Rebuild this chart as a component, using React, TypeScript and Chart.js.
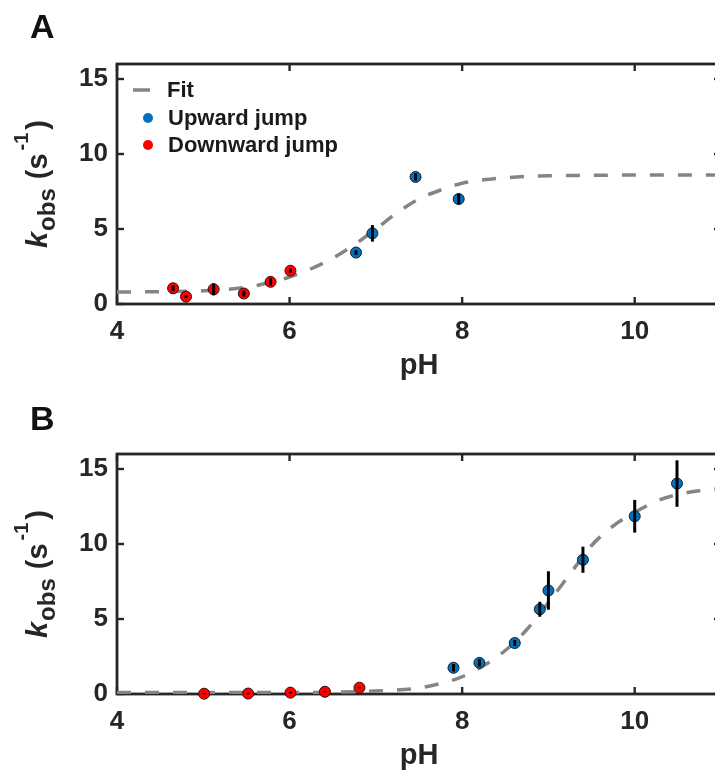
import React, { useEffect, useRef } from "react";
import { Chart, registerables } from "chart.js";

Chart.register(...registerables);

// ---------- data ----------
const xTicks = [4, 6, 8, 10];
const yTicks = [0, 5, 10, 15];
const xMin = 4;
const xMax = 11;
const yMin = 0;
const yMax = 16;

// Panel A
const fitA_pH = [4, 4.5, 5, 5.5, 5.75, 6, 6.25, 6.5, 6.75, 7, 7.25, 7.5, 7.75, 8, 8.25, 8.5, 9, 9.5, 10, 11];
const fitA_k = [0.8, 0.82, 0.88, 1.12, 1.4, 1.8, 2.35, 3.05, 3.95, 5.0, 6.1, 7.0, 7.6, 8.05, 8.28, 8.42, 8.55, 8.58, 8.6, 8.6];
const upA_pH = [6.77, 6.96, 7.46, 7.96];
const upA_k = [3.43, 4.71, 8.47, 7.0];
const upA_err = [0.15, 0.55, 0.25, 0.35];
const downA_pH = [4.65, 4.8, 5.12, 5.47, 5.78, 6.01];
const downA_k = [1.05, 0.49, 0.98, 0.7, 1.48, 2.22];
const downA_err = [0.2, 0.1, 0.4, 0.2, 0.25, 0.15];

// Panel B
const fitB_pH = [4, 5, 6, 6.5, 7, 7.5, 7.75, 8, 8.25, 8.5, 8.75, 9, 9.25, 9.5, 9.75, 10, 10.25, 10.5, 10.75, 11];
const fitB_k = [0.1, 0.1, 0.1, 0.12, 0.2, 0.4, 0.7, 1.15, 1.9, 2.9, 4.3, 6.1, 8.0, 9.9, 11.2, 12.1, 12.85, 13.3, 13.55, 13.7];
const upB_pH = [7.9, 8.2, 8.61, 8.9, 9.0, 9.4, 10.0, 10.49];
const upB_k = [1.75, 2.08, 3.4, 5.65, 6.9, 8.95, 11.85, 14.03];
const upB_err = [0.25, 0.25, 0.2, 0.5, 1.28, 0.87, 1.09, 1.55];
const downB_pH = [5.01, 5.52, 6.01, 6.41, 6.81];
const downB_k = [0.02, 0.03, 0.09, 0.15, 0.42];
const downB_err = [0.05, 0.05, 0.05, 0.05, 0.05];

const legendLabels = ["Fit", "Upward jump", "Downward jump"];
const xTitle = "pH";

// ---------- styles ----------
const AXIS = "#262626";
const FONT = "'Liberation Sans', Arial, Helvetica, sans-serif";
const FIT_COLOR = "#858585";
const UP_COLOR = "#0072BD";
const DOWN_COLOR = "#FF0000";
const CW = 740;
const CH = 390;

const pts = (xs: number[], ys: number[]) => xs.map((x, i) => ({ x, y: ys[i] }));

function drawYLabel(ctx: CanvasRenderingContext2D, cx: number, cy: number) {
  const parts = [
    { t: "k", font: `italic bold 29px ${FONT}`, dv: 0, pre: 0 },
    { t: "obs", font: `bold 24px ${FONT}`, dv: 8, pre: 1 },
    { t: "(s", font: `bold 29px ${FONT}`, dv: 0, pre: 9 },
    { t: "-1", font: `bold 20px ${FONT}`, dv: -19, pre: 3 },
    { t: ")", font: `bold 29px ${FONT}`, dv: 0, pre: 3 },
  ];
  ctx.save();
  ctx.fillStyle = AXIS;
  ctx.textBaseline = "alphabetic";
  ctx.textAlign = "left";
  const widths = parts.map((p) => {
    ctx.font = p.font;
    return ctx.measureText(p.t).width;
  });
  const total = widths.reduce((a, b) => a + b, 0) + parts.reduce((a, p) => a + p.pre, 0);
  ctx.translate(cx, cy);
  ctx.rotate(-Math.PI / 2);
  let u = -total / 2;
  parts.forEach((p, i) => {
    u += p.pre;
    ctx.font = p.font;
    ctx.fillText(p.t, u, p.dv);
    u += widths[i];
  });
  ctx.restore();
}

const decorPlugin = {
  id: "decor",
  beforeDatasetsDraw(chart: any) {
    const { ctx, chartArea } = chart;
    const { left, right, top, bottom } = chartArea;
    const xs = chart.scales.x;
    const ys = chart.scales.y;
    ctx.save();
    ctx.strokeStyle = AXIS;
    ctx.lineWidth = 2.8;
    ctx.strokeRect(left, top, right - left, bottom - top);
    ctx.lineWidth = 2.4;
    const tl = 7;
    const seg = (a: number, b: number, c: number, d: number) => {
      ctx.beginPath();
      ctx.moveTo(a, b);
      ctx.lineTo(c, d);
      ctx.stroke();
    };
    xTicks.forEach((v) => {
      const px = xs.getPixelForValue(v);
      seg(px, bottom, px, bottom - tl);
      seg(px, top, px, top + tl);
    });
    yTicks.forEach((v) => {
      const py = ys.getPixelForValue(v);
      seg(left, py, left + tl, py);
      seg(right, py, right - tl, py);
    });
    ctx.restore();
  },
  afterDatasetsDraw(chart: any, _args: any, opts: any) {
    const { ctx } = chart;
    const xs = chart.scales.x;
    const ys = chart.scales.y;
    ctx.save();
    ctx.strokeStyle = "#000";
    ctx.lineWidth = 3;
    (opts.errors || []).forEach((e: any) => {
      e.x.forEach((xv: number, i: number) => {
        const px = xs.getPixelForValue(xv);
        const y1 = ys.getPixelForValue(e.y[i] - e.err[i]);
        const y2 = ys.getPixelForValue(e.y[i] + e.err[i]);
        ctx.beginPath();
        ctx.moveTo(px, y1);
        ctx.lineTo(px, y2);
        ctx.stroke();
      });
    });
    ctx.restore();
  },
  afterDraw(chart: any, _args: any, opts: any) {
    const { ctx, chartArea } = chart;
    const { left, top, bottom } = chartArea;
    ctx.save();
    ctx.fillStyle = "#111";
    ctx.font = `bold 34px ${FONT}`;
    ctx.textAlign = "left";
    ctx.textBaseline = "alphabetic";
    ctx.fillText(opts.letter, 30, opts.letterY);
    ctx.restore();

    drawYLabel(ctx, 47, (top + bottom) / 2);

    if (opts.legend) {
      ctx.save();
      ctx.strokeStyle = FIT_COLOR;
      ctx.lineWidth = 3.5;
      ctx.beginPath();
      ctx.moveTo(left + 16, top + 26);
      ctx.lineTo(left + 33, top + 26);
      ctx.stroke();
      const dot = (cy: number, col: string) => {
        ctx.beginPath();
        ctx.arc(left + 31, cy, 5, 0, Math.PI * 2);
        ctx.fillStyle = col;
        ctx.fill();
      };
      dot(top + 54, UP_COLOR);
      dot(top + 81, DOWN_COLOR);
      ctx.fillStyle = "#1a1a1a";
      ctx.font = `bold 22px ${FONT}`;
      ctx.textAlign = "left";
      ctx.textBaseline = "middle";
      ctx.fillText(legendLabels[0], left + 50, top + 27);
      ctx.fillText(legendLabels[1], left + 51, top + 55);
      ctx.fillText(legendLabels[2], left + 51, top + 82);
      ctx.restore();
    }
  },
};

function makeConfig(p: {
  fitX: number[]; fitY: number[];
  upX: number[]; upY: number[]; upE: number[];
  downX: number[]; downY: number[]; downE: number[];
  letter: string; letterY: number; legend: boolean;
}): any {
  return {
    type: "scatter",
    data: {
      datasets: [
        {
          label: legendLabels[0],
          data: pts(p.fitX, p.fitY),
          showLine: true,
          borderColor: FIT_COLOR,
          borderWidth: 3.5,
          borderDash: [14, 14],
          pointRadius: 0,
          cubicInterpolationMode: "monotone",
          order: 3,
        },
        {
          label: legendLabels[2],
          data: pts(p.downX, p.downY),
          backgroundColor: DOWN_COLOR,
          borderColor: "#3a0a0a",
          borderWidth: 1,
          pointRadius: 5.5,
          clip: false,
          order: 2,
        },
        {
          label: legendLabels[1],
          data: pts(p.upX, p.upY),
          backgroundColor: UP_COLOR,
          borderColor: "#0b1f33",
          borderWidth: 1,
          pointRadius: 5.5,
          clip: false,
          order: 1,
        },
      ],
    },
    options: {
      animation: false,
      responsive: false,
      devicePixelRatio: 1,
      events: [],
      layout: { padding: { left: 0, top: 64, right: 19, bottom: 0 }, autoPadding: false },
      plugins: {
        legend: { display: false },
        tooltip: { enabled: false },
        decor: {
          letter: p.letter,
          letterY: p.letterY,
          legend: p.legend,
          errors: [
            { x: p.downX, y: p.downY, err: p.downE },
            { x: p.upX, y: p.upY, err: p.upE },
          ],
        },
      },
      scales: {
        x: {
          type: "linear",
          min: xMin,
          max: xMax,
          afterBuildTicks: (s: any) => {
            s.ticks = xTicks.map((v) => ({ value: v }));
          },
          afterFit: (s: any) => {
            s.height = CH - 64 - 240;
          },
          grid: { display: false, drawTicks: false },
          border: { display: false },
          ticks: {
            color: AXIS,
            font: { family: FONT, size: 26, weight: "bold" },
            padding: 12,
            maxRotation: 0,
          },
          title: {
            display: true,
            text: xTitle,
            color: AXIS,
            font: { family: FONT, size: 29, weight: "bold" },
            padding: { top: 0, bottom: 7 },
          },
        },
        y: {
          type: "linear",
          min: yMin,
          max: yMax,
          afterBuildTicks: (s: any) => {
            s.ticks = yTicks.map((v) => ({ value: v }));
          },
          afterFit: (s: any) => {
            s.width = 117;
          },
          grid: { display: false, drawTicks: false },
          border: { display: false },
          ticks: {
            color: AXIS,
            font: { family: FONT, size: 26, weight: "bold" },
            padding: 9,
          },
        },
      },
    },
    plugins: [decorPlugin],
  };
}

export default function App() {
  const refA = useRef<HTMLCanvasElement>(null);
  const refB = useRef<HTMLCanvasElement>(null);

  useEffect(() => {
    const a = new Chart(
      refA.current!,
      makeConfig({
        fitX: fitA_pH, fitY: fitA_k,
        upX: upA_pH, upY: upA_k, upE: upA_err,
        downX: downA_pH, downY: downA_k, downE: downA_err,
        letter: "A", letterY: 38, legend: true,
      })
    );
    const b = new Chart(
      refB.current!,
      makeConfig({
        fitX: fitB_pH, fitY: fitB_k,
        upX: upB_pH, upY: upB_k, upE: upB_err,
        downX: downB_pH, downY: downB_k, downE: downB_err,
        letter: "B", letterY: 40, legend: false,
      })
    );
    return () => {
      a.destroy();
      b.destroy();
    };
  }, []);

  return (
    <div
      style={{
        position: "absolute",
        left: 0,
        top: 0,
        width: 715,
        height: 781,
        overflow: "hidden",
        background: "#fff",
      }}
    >
      <canvas ref={refA} width={CW} height={CH} style={{ position: "absolute", left: 0, top: 0 }} />
      <canvas ref={refB} width={CW} height={CH} style={{ position: "absolute", left: 0, top: 390 }} />
    </div>
  );
}
